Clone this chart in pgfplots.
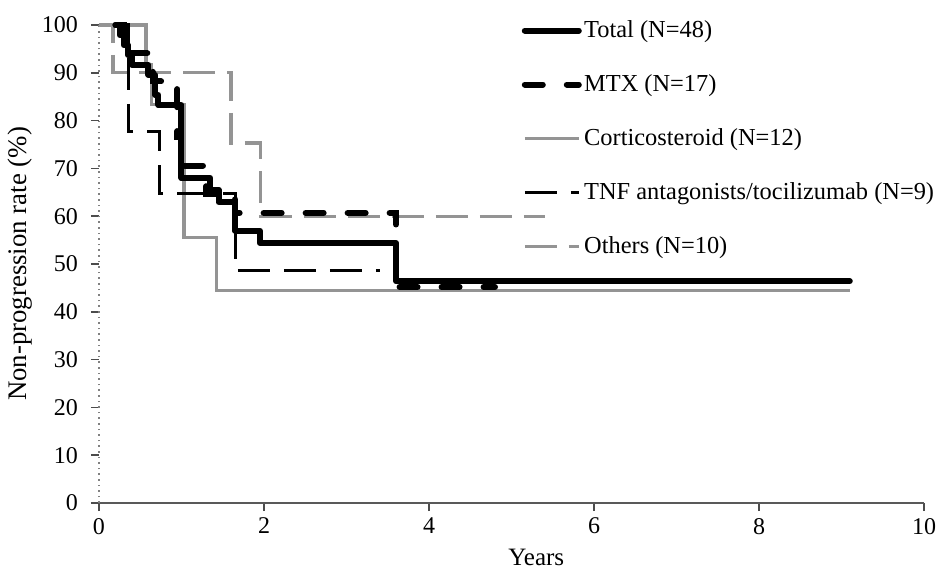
\documentclass[border=0pt]{standalone}
\usepackage{fontspec}
\setmainfont{Liberation Serif}
\usepackage{pgfplots}
\pgfplotsset{compat=1.18}

\tikzset{
  totalline/.style={black, line width=3pt, line cap=round, line join=round},
  mtxline/.style={black, line width=3pt, line cap=round, dash pattern=on 9pt off 12pt},
  cortline/.style={black!42, line width=1.6pt},
  tnfline/.style={black, line width=1.5pt, dash pattern=on 16pt off 7pt},
  othline/.style={black!42, line width=1.6pt, dash pattern=on 16pt off 6pt},
}

\begin{document}
\begin{tikzpicture}
\begin{axis}[
  at={(0pt,0pt)}, anchor=south west,
  scale only axis, width=412.5pt, height=239pt,
  xmin=0, xmax=10, ymin=0, ymax=100,
  xtick={0,2,...,10}, ytick={0,10,...,100},
  axis lines*=left,
  x axis line style={black!65, line width=0.8pt},
  y axis line style={black!50, dotted, line width=0.8pt},
  tick align=outside, major tick length=4pt,
  tick style={black!70, line width=0.8pt, solid},
  font=\fontsize{12}{14}\selectfont,
  /pgf/number format/assume math mode=true,
  yticklabel style={xshift=-3pt},
  xlabel={Years},
  ylabel={Non-progression rate (\%)},
  xlabel style={at={(axis description cs:0.53,-0.113)}, anchor=center, font=\fontsize{12.5}{15}\selectfont},
  ylabel style={at={(axis description cs:-0.0955,0.5)}, anchor=center, font=\fontsize{13.4}{16}\selectfont},
  clip=false,
  legend cell align=left,
  legend image code/.code={\draw[#1] (0pt,0pt) -- (27pt,0pt);},
  legend style={at={(0.512,1.015)}, anchor=north west, draw=none, fill=none,
    row sep=14.6pt, inner sep=0pt, column sep=0pt, nodes={inner sep=1.2pt},
    font=\fontsize{12.2}{15}\selectfont},
]
% legend in the order of the reference
\addlegendimage{totalline}\addlegendentry{Total (N=48)}
\addlegendimage{mtxline}\addlegendentry{MTX (N=17)}
\addlegendimage{cortline}\addlegendentry{Corticosteroid (N=12)}
\addlegendimage{tnfline}\addlegendentry{TNF antagonists/tocilizumab (N=9)}
\addlegendimage{othline}\addlegendentry{Others (N=10)}

% Corticosteroid
\addplot[cortline, const plot, forget plot] coordinates {
  (0,100) (0.57,91.7) (0.64,83.3) (1.03,55.5) (1.42,44.4) (9.1,44.4)
};
% Others
\addplot[othline, const plot, forget plot] coordinates {
  (0,100) (0.17,90) (1.6,75.3) (1.96,60) (5.4,60)
};
% TNF antagonists/tocilizumab
\addplot[tnfline, const plot, forget plot] coordinates {
  (0.2,100) (0.36,77.8) (0.73,64.8) (1.65,48.6) (3.4,48.6)
};
% MTX
\addplot[mtxline, const plot, forget plot] coordinates {
  (0.2,100) (0.3,94.1) (0.65,88.2) (0.95,76.5) (1.0,70.6) (1.3,64.7)
  (1.65,60.7) (3.6,45.2) (4.8,45.2)
};
% Total
\addplot[totalline, const plot, forget plot] coordinates {
  (0.2,100) (0.25,97.9) (0.3,95.8) (0.35,93.8) (0.4,91.7) (0.6,89.6)
  (0.68,85.4) (0.72,83.3) (1.0,68.0) (1.35,65.5) (1.45,62.9) (1.65,57.0)
  (1.95,54.4) (3.6,46.4) (9.1,46.4)
};
\end{axis}
\pgfresetboundingbox
\path[use as bounding box] (-49.5pt,-35pt) rectangle (418.5pt,251.5pt);
\end{tikzpicture}
\end{document}
